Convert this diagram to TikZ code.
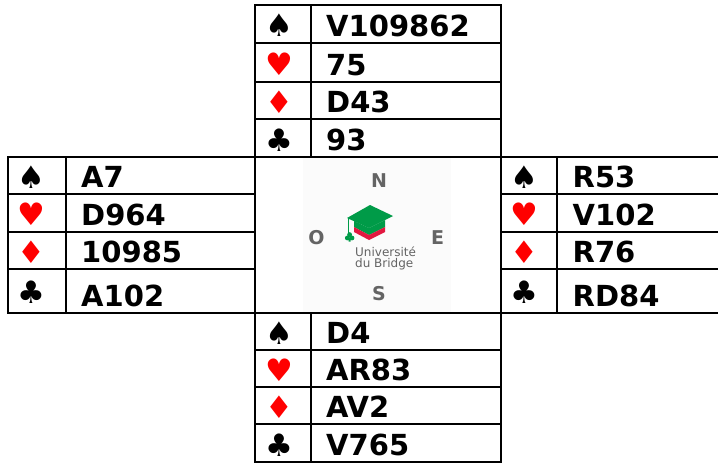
\documentclass[tikz,border=0pt]{standalone}
\usepackage{fontspec}
\setmainfont{DejaVu Sans}
\usetikzlibrary{positioning}
\definecolor{suitred}{RGB}{255,0,0}
\definecolor{logogray}{RGB}{100,100,100}
\definecolor{capgreen}{RGB}{0,155,72}
\definecolor{capred}{RGB}{226,24,64}
\tikzset{
		gridline/.style = 	{line width = 2pt},
		suit/.style = 		{font=\fontsize{31}{31}\selectfont, inner sep=0pt},
		cards/.style=	{font=\fontsize{29}{29}\selectfont\bfseries, anchor=base west, inner sep=0pt},
		compass/.style=	{font=\fontsize{19}{19}\selectfont\bfseries, text=logogray, inner sep=0pt},
		logotext/.style=	{font=\fontsize{12}{12}\selectfont, text=logogray, anchor=base west, inner sep=0pt}
}

\begin{document}
\begin{tikzpicture}[x=1pt, y=-1pt]
  \useasboundingbox (0,0) rectangle (718,463);

  % logo in the middle
  \fill[black!1.5] (303,158) rectangle (451,312);
  \node [compass] (N) at (379,180.5) {N};
  \node [compass] (O) at (316.5,237.5) {O};
  \node [compass] (E) at (437.5,237.5) {E};
  \node [compass] (S) at (379,294) {S};
  \fill[capgreen] (347,218) -- (370,205) -- (393,216) -- (369,228) -- cycle;
  \fill[capgreen] (354,221) -- (369,228) -- (385,220) -- (385,227) -- (369,235) -- (354,227) -- cycle;
  \fill[capred] (354,227) -- (369,235) -- (385,227) -- (385,232) -- (369,240) -- (354,232) -- cycle;
  \draw[capgreen, line width=1.5pt] (348.5,218) -- (348.5,233);
  \fill[capgreen] (347.3,238) circle (2.4) (352,238) circle (2.4) (349.6,234.6) circle (2.4)
     (348.6,241.5) rectangle (350.6,238);
  \node [logotext] (ub1) at (355,256.5) {Université};
  \node [logotext] (ub2) at (355,267.5) {du Bridge};

  % North
  \foreach \top/\bot/\s/\col/\txt [count=\i] in
      {5/43.3/♠/black/V109862, 43.3/81.7/♥/suitred/75, 81.7/119.3/♦/suitred/D43, 119.3/157.3/♣/black/93}
     {\draw[gridline] (255,\top) rectangle (311,\bot) (311,\top) rectangle (500.7,\bot);
      \node [suit, text=\col] (ns\i) at (279,{(\top+\bot)/2+1.5}) {\s};
      \node [cards] (nc\i) at (326,\bot-6.5) {\txt};}

  % West
  \foreach \top/\bot/\s/\col/\txt [count=\i] in
      {157.3/194.3/♠/black/A7, 194.3/231.7/♥/suitred/D964, 231.7/269/♦/suitred/10985, 269/312.7/♣/black/A102}
     {\draw[gridline] (8.3,\top) rectangle (66,\bot) (66,\top) rectangle (255,\bot);
      \node [suit, text=\col] (ws\i) at (31,{(\top+\bot)/2+1.5}) {\s};
      \node [cards] (wc\i) at (81,\bot-6.5) {\txt};}

  % East
  \foreach \top/\bot/\s/\col/\txt [count=\i] in
      {157.3/194.3/♠/black/R53, 194.3/231.7/♥/suitred/V102, 231.7/269/♦/suitred/R76, 269/312.7/♣/black/RD84}
     {\draw[gridline] (500.7,\top) rectangle (556.7,\bot) (556.7,\top) rectangle (720,\bot);
      \node [suit, text=\col] (es\i) at (524,{(\top+\bot)/2+1.5}) {\s};
      \node [cards] (ec\i) at (572.5,\bot-6.5) {\txt};}

  % South
  \foreach \top/\bot/\s/\col/\txt [count=\i] in
      {312.7/350/♠/black/D4, 350/387.3/♥/suitred/AR83, 387.3/424.3/♦/suitred/AV2, 424.3/462.3/♣/black/V765}
     {\draw[gridline] (255,\top) rectangle (311,\bot) (311,\top) rectangle (500.7,\bot);
      \node [suit, text=\col] (ss\i) at (279,{(\top+\bot)/2+1.5}) {\s};
      \node [cards] (sc\i) at (326,\bot-6.5) {\txt};}

\end{tikzpicture}
\end{document}
